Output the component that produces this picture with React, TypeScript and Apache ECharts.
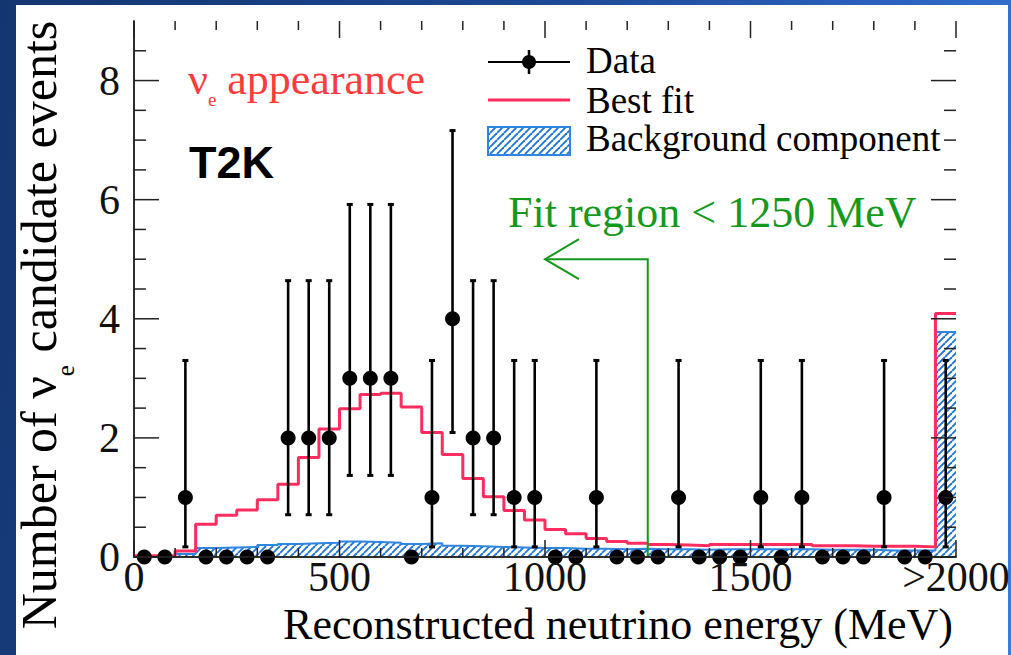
import React, { useEffect, useRef } from "react";
import * as echarts from "echarts";

// ---- data ----
const binLowEdges = [
  0, 50, 100, 150, 200, 250, 300, 350, 400, 450, 500, 550, 600, 650, 700, 750, 800, 850, 900, 950,
  1000, 1050, 1100, 1150, 1200, 1250, 1300, 1350, 1400, 1450, 1500, 1550, 1600, 1650, 1700, 1750, 1800, 1850, 1900, 1950,
];
const binWidth = 50;

const dataCounts = [
  0, 0, 1, 0, 0, 0, 0, 2, 2, 2, 3, 3, 3, 0, 1, 4, 2, 2, 1, 1,
  0, 0, 1, 0, 0, 0, 1, 0, 0, 0, 1, 0, 1, 0, 0, 0, 1, 0, 0, 1,
];
const dataErrLow = [
  null, null, 0.17, null, null, null, null, 0.71, 0.71, 0.71, 1.37, 1.37, 1.37, null, 0.17, 2.09, 0.71, 0.71, 0.17, 0.17,
  null, null, 0.17, null, null, null, 0.17, null, null, null, 0.17, null, 0.17, null, null, null, 0.17, null, null, 0.17,
];
const dataErrHigh = [
  null, null, 3.3, null, null, null, null, 4.64, 4.64, 4.64, 5.92, 5.92, 5.92, null, 3.3, 7.16, 4.64, 4.64, 3.3, 3.3,
  null, null, 3.3, null, null, null, 3.3, null, null, null, 3.3, null, 3.3, null, null, null, 3.3, null, null, 3.3,
];
const bestFit = [
  0.02, 0.02, 0.1, 0.55, 0.7, 0.79, 0.96, 1.22, 1.67, 2.15, 2.49, 2.73, 2.75, 2.52, 2.09, 1.72, 1.32, 1.01, 0.78, 0.62,
  0.46, 0.39, 0.31, 0.26, 0.23, 0.21, 0.2, 0.19, 0.21, 0.21, 0.21, 0.21, 0.21, 0.19, 0.19, 0.18, 0.18, 0.18, 0.17, 4.09,
];
const background = [
  0.01, 0.01, 0.05, 0.15, 0.16, 0.17, 0.2, 0.22, 0.23, 0.24, 0.26, 0.25, 0.24, 0.22, 0.23, 0.19, 0.18, 0.17, 0.16, 0.15,
  0.15, 0.14, 0.14, 0.13, 0.14, 0.13, 0.13, 0.12, 0.13, 0.13, 0.13, 0.13, 0.13, 0.12, 0.12, 0.12, 0.11, 0.11, 0.11, 3.78,
];
const xTickLabels: Record<number, string> = { 0: "0", 500: "500", 1000: "1000", 1500: "1500", 2000: ">2000" };
const yTickLabels: Record<number, string> = { 0: "0", 2: "2", 4: "4", 6: "6", 8: "8" };
const xMajorTicks = [0, 500, 1000, 1500, 2000];
const xMinorTicks = [100, 200, 300, 400, 600, 700, 800, 900, 1100, 1200, 1300, 1400, 1600, 1700, 1800, 1900];
const yMajorTicks = [0, 2, 4, 6, 8];
const yMinorTicks = [0.5, 1, 1.5, 2.5, 3, 3.5, 4.5, 5, 5.5, 6.5, 7, 7.5, 8.5];
const fitRegionEdge = 1250;
const arrowLevel = 5;
const arrowTipEnergy = 1000;

const SERIF = "Liberation Serif";
const SANS = "Liberation Sans";
const RED = "#ff2d5f";
const BLUE_LINE = "#2f86e0";
const BLUE_HATCH = "#1f74d8";
const GREEN = "#14991c";

function stepData(vals: number[]) {
  const pts = binLowEdges.map((x, i) => [x, vals[i]]);
  pts.push([binLowEdges[binLowEdges.length - 1] + binWidth, vals[vals.length - 1]]);
  return pts;
}

function makeHatch() {
  const s = 7;
  const c = document.createElement("canvas");
  c.width = s;
  c.height = s;
  const ctx = c.getContext("2d")!;
  ctx.fillStyle = "#ffffff";
  ctx.fillRect(0, 0, s, s);
  ctx.strokeStyle = BLUE_HATCH;
  ctx.lineWidth = 1.9;
  for (const k of [-1, 0, 1]) {
    ctx.beginPath();
    ctx.moveTo(k * s, s);
    ctx.lineTo(k * s + s, 0);
    ctx.stroke();
  }
  return c;
}

export default function App() {
  const ref = useRef<HTMLDivElement>(null);
  useEffect(() => {
    if (!ref.current) return;
    const chart = echarts.init(ref.current, undefined, { renderer: "svg" });
    const hatch = { image: makeHatch(), repeat: "repeat" } as any;

    const X_MIN = 0, X_MAX = 2000, Y_MIN = 0, Y_MAX = 9;
    const axisLine = { show: true, lineStyle: { color: "#222", width: 1.5 } };

    const centers = binLowEdges.map((x) => x + binWidth / 2);
    const errData = centers
      .map((c, i) => [c, dataErrLow[i], dataErrHigh[i]])
      .filter((d) => d[1] !== null);

    // tick items: [value, kind(0 = x, 1 = y), length px]
    const tickData = [
      ...xMajorTicks.map((v) => [v, 0, 17]),
      ...xMinorTicks.map((v) => [v, 0, 9]),
      ...yMajorTicks.map((v) => [v, 1, 25]),
      ...yMinorTicks.map((v) => [v, 1, 12]),
    ];

    const textStyle = (text: string, size: number, fill: string, align = "left", family = SERIF, weight = "normal") => ({
      text, fontSize: size, fontFamily: family, fontWeight: weight, fill,
      align, verticalAlign: "middle", textAlign: align, textVerticalAlign: "middle",
    });

    const option: any = {
      animation: false,
      backgroundColor: "transparent",
      grid: { left: 134, right: 55, top: 21, bottom: 98, containLabel: false, outerBoundsMode: "none" },
      xAxis: [
        {
          type: "value", min: X_MIN, max: X_MAX, interval: 500, position: "bottom", axisLine,
          axisTick: { show: false }, splitLine: { show: false }, z: 10,
          axisLabel: {
            show: true, margin: 4, fontSize: 42, lineHeight: 32, fontFamily: SERIF, color: "#111",
            showMinLabel: true, showMaxLabel: true,
            formatter: (v: number) => xTickLabels[v] ?? "",
          },
        },
        {
          type: "value", min: X_MIN, max: X_MAX, interval: 500, position: "top", axisLine,
          axisTick: { show: false }, splitLine: { show: false }, axisLabel: { show: false }, z: 10,
        },
      ],
      yAxis: [
        {
          type: "value", min: Y_MIN, max: Y_MAX, interval: 2, position: "left", axisLine,
          axisTick: { show: false }, splitLine: { show: false }, z: 10,
          axisLabel: {
            show: true, margin: 14, fontSize: 42, fontFamily: SERIF, color: "#111",
            showMaxLabel: false,
            formatter: (v: number) => yTickLabels[v] ?? "",
          },
        },
        {
          type: "value", min: Y_MIN, max: Y_MAX, interval: 2, position: "right", axisLine,
          axisTick: { show: false }, splitLine: { show: false }, axisLabel: { show: false }, z: 10,
        },
      ],
      series: [
        {
          name: "Background component",
          type: "line", step: "end", data: stepData(background),
          showSymbol: false, symbol: "none",
          lineStyle: { color: BLUE_LINE, width: 2 },
          areaStyle: { color: hatch, opacity: 1 },
          z: 2,
        },
        {
          name: "Best fit",
          type: "line", step: "end", data: stepData(bestFit),
          showSymbol: false, symbol: "none",
          lineStyle: { color: RED, width: 3 },
          z: 3,
        },
        {
          name: "Fit region",
          type: "custom",
          data: [[fitRegionEdge, arrowLevel, arrowTipEnergy]],
          encode: { x: [0, 2], y: 1 },
          z: 4,
          renderItem: (_p: any, api: any) => {
            const e = api.value(0);
            const lv = api.value(1);
            const tip = api.value(2);
            const p0 = api.coord([e, 0]);
            const p1 = api.coord([e, lv]);
            const p2 = api.coord([tip, lv]);
            return {
              type: "group",
              children: [
                { type: "polyline", shape: { points: [p0, p1, p2] }, style: { stroke: GREEN, lineWidth: 2, fill: "none" } },
                {
                  type: "polyline",
                  shape: { points: [[p2[0] + 34, p2[1] - 20], p2, [p2[0] + 34, p2[1] + 20]] },
                  style: { stroke: GREEN, lineWidth: 2, fill: "none" },
                },
              ],
            };
          },
        },
        {
          name: "Data errors",
          type: "custom",
          data: errData,
          encode: { x: 0, y: [1, 2] },
          z: 5,
          renderItem: (_p: any, api: any) => {
            const x = api.value(0);
            const lo = api.coord([x, api.value(1)]);
            const hi = api.coord([x, api.value(2)]);
            return {
              type: "group",
              children: [
                { type: "line", shape: { x1: lo[0], y1: lo[1], x2: hi[0], y2: hi[1] }, style: { stroke: "#000", lineWidth: 2.6 } },
                { type: "line", shape: { x1: lo[0] - 3, y1: lo[1], x2: lo[0] + 3, y2: lo[1] }, style: { stroke: "#000", lineWidth: 3 } },
                { type: "line", shape: { x1: hi[0] - 3, y1: hi[1], x2: hi[0] + 3, y2: hi[1] }, style: { stroke: "#000", lineWidth: 3 } },
              ],
            };
          },
        },
        {
          name: "Data",
          type: "scatter",
          data: centers.map((c, i) => [c, dataCounts[i]]),
          symbol: "circle",
          symbolSize: 15,
          itemStyle: { color: "#000", opacity: 1 },
          clip: false,
          z: 6,
        },
        {
          name: "Axis ticks",
          type: "custom",
          data: tickData,
          encode: { x: 0, y: 1 },
          clip: false,
          silent: true,
          z: 11,
          renderItem: (_p: any, api: any) => {
            const v = api.value(0);
            const kind = api.value(1);
            const len = api.value(2);
            const st = { stroke: "#222", lineWidth: 1.5 };
            if (kind === 0) {
              const b = api.coord([v, Y_MIN]);
              const t = api.coord([v, Y_MAX]);
              return {
                type: "group",
                children: [
                  { type: "line", shape: { x1: b[0], y1: b[1], x2: b[0], y2: b[1] - len }, style: st },
                  { type: "line", shape: { x1: t[0], y1: t[1], x2: t[0], y2: t[1] + len }, style: st },
                ],
              };
            }
            const l = api.coord([X_MIN, v]);
            const r = api.coord([X_MAX, v]);
            return {
              type: "group",
              children: [
                { type: "line", shape: { x1: l[0], y1: l[1], x2: l[0] + len, y2: l[1] }, style: st },
                { type: "line", shape: { x1: r[0], y1: r[1], x2: r[0] - len, y2: r[1] }, style: st },
              ],
            };
          },
        },
      ],
      graphic: [
        // legend
        { type: "line", shape: { x1: 488, y1: 62, x2: 570, y2: 62 }, style: { stroke: "#000", lineWidth: 2 }, z: 20 },
        { type: "line", shape: { x1: 529, y1: 50, x2: 529, y2: 74 }, style: { stroke: "#000", lineWidth: 2.5 }, z: 20 },
        { type: "circle", shape: { cx: 529, cy: 62, r: 7 }, style: { fill: "#000" }, z: 20 },
        { type: "text", x: 586, y: 60, z: 20, style: textStyle("Data", 37, "#000") },
        { type: "line", shape: { x1: 488, y1: 100, x2: 570, y2: 100 }, style: { stroke: RED, lineWidth: 3 }, z: 20 },
        { type: "text", x: 586, y: 100, z: 20, style: textStyle("Best fit", 37, "#000") },
        { type: "rect", shape: { x: 488, y: 127, width: 82, height: 28 }, style: { fill: hatch, stroke: BLUE_LINE, lineWidth: 2 }, z: 20 },
        { type: "text", x: 586, y: 138, z: 20, style: textStyle("Background component", 37, "#000") },
        // annotations
        {
          type: "text", x: 188, y: 79, z: 20,
          style: {
            ...textStyle("ν{sub|e} appearance", 44, "#ff3b3b"),
            rich: { sub: { fontSize: 19, fontFamily: SERIF, fill: "#ff3b3b", lineHeight: 19, padding: [41, 0, 0, 0] } },
          },
        },
        { type: "text", x: 189, y: 162, z: 20, style: textStyle("T2K", 45, "#000", "left", SANS, "bold") },
        { type: "text", x: 508, y: 212, z: 20, style: textStyle("Fit region < 1250 MeV", 44, GREEN) },
        // axis titles
        { type: "text", x: 953, y: 624, z: 20, style: { ...textStyle("Reconstructed neutrino energy (MeV)", 44, "#000", "right"), lineHeight: 36 } },
        {
          type: "text", x: 39, y: 325, rotation: Math.PI / 2, z: 20,
          style: {
            ...textStyle("Number of ν{sub|e} candidate events", 50, "#000", "center"),
            rich: { sub: { fontSize: 25, fontFamily: SERIF, fill: "#000", lineHeight: 25, padding: [52, 0, 0, 0] } },
          },
        },
      ],
    };
    chart.setOption(option);
    return () => chart.dispose();
  }, []);

  return (
    <div
      style={{
        position: "fixed", left: 0, top: 0, width: 1011, height: 655, overflow: "hidden",
        background: "linear-gradient(100deg, #143670 0%, #1b4690 45%, #2c62bf 80%, #3b7bdb 100%)",
      }}
    >
      <div style={{ position: "absolute", left: 16, top: 5, width: 992, height: 650, background: "#fff" }} />
      <div ref={ref} style={{ position: "absolute", left: 0, top: 0, width: 1011, height: 655 }} />
    </div>
  );
}
